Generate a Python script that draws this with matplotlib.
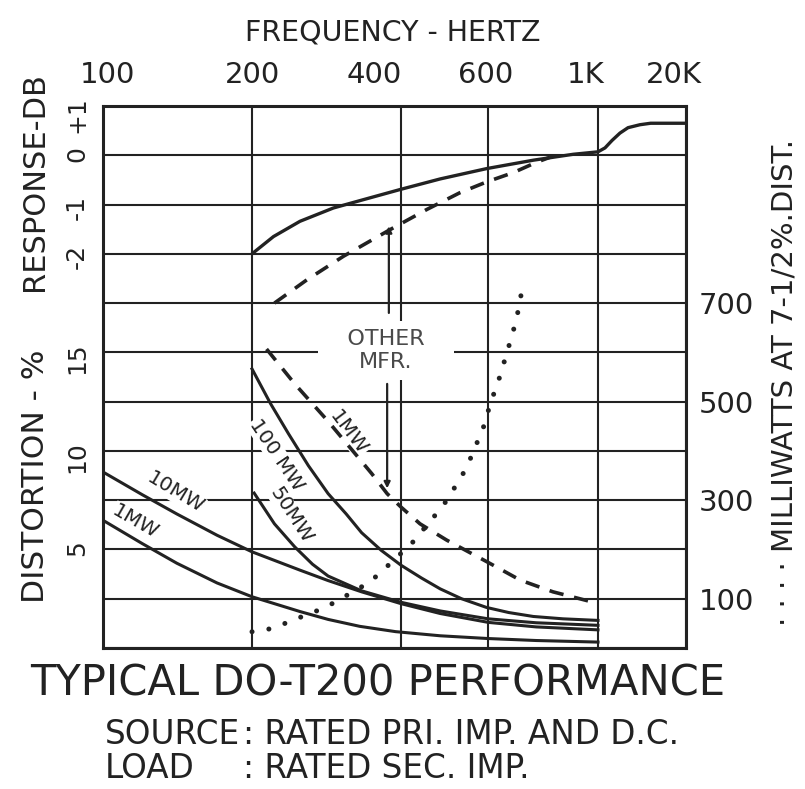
#!/usr/bin/env python3
"""Typical DO-T200 performance: response, distortion and milliwatts vs frequency."""
import numpy as np
import matplotlib
matplotlib.use('Agg')
import matplotlib.pyplot as plt
from matplotlib.ticker import MultipleLocator
from matplotlib.transforms import ScaledTranslation

plt.rcParams.update({
    'font.family': 'DejaVu Sans',
    'text.color': '#222222',
    'axes.edgecolor': '#222222',
    'xtick.color': '#222222',
    'ytick.color': '#222222',
})

INK = '#222222'

# --- axis ticks ---
freq_ticks = [100, 200, 400, 600, 1000, 20000]
freq_labels = ['100', '200', '400', '600', '1K', '20K']
dist_ticks = [5, 10, 15]
db_ticks = [-2, -1, 0, 1]
db_labels = ['-2', '-1', '0', '+1']
mw_ticks = [100, 300, 500, 700]

# --- frequency response (dB) ---
resp_f = [200, 221, 250, 292, 336, 400, 480, 596, 740, 891, 1000,
          1270, 1610, 2110, 2780, 4170, 6000, 20000]
resp_db = [-2.0, -1.65, -1.34, -1.07, -0.9, -0.69, -0.48, -0.27, -0.1, 0.02, 0.07,
           0.15, 0.3, 0.45, 0.56, 0.62, 0.65, 0.65]

other_resp_f = [222, 258, 306, 380, 451, 526, 596, 675, 752, 800]
other_resp_db = [-3.0, -2.53, -2.05, -1.51, -1.1, -0.76, -0.54, -0.35, -0.14, -0.04]

# --- distortion (%) ---
f_100mw = [200, 218, 237, 260, 285, 310, 333, 365, 400, 440, 480, 530, 595,
           660, 740, 850, 1000]
d_100mw = [14.16, 12.4, 10.87, 9.25, 7.83, 6.8, 5.85, 4.95, 4.2, 3.55, 3.0, 2.5, 2.06,
           1.8, 1.6, 1.48, 1.4]

f_50mw = [202, 222, 244, 265, 285, 333, 400, 480, 600, 750, 1000]
d_50mw = [7.86, 6.3, 5.13, 4.25, 3.65, 2.9, 2.32, 1.88, 1.48, 1.28, 1.15]

f_10mw = [100, 120, 141, 170, 200, 250, 285, 333, 400, 480, 600, 750, 1000]
d_10mw = [8.93, 7.78, 6.8, 5.72, 4.88, 3.95, 3.42, 2.85, 2.25, 1.75, 1.3, 1.07, 0.92]

f_1mw = [100, 120, 141, 170, 200, 250, 285, 330, 390, 480, 600, 750, 1000]
d_1mw = [6.48, 5.3, 4.3, 3.3, 2.6, 1.85, 1.45, 1.1, 0.83, 0.62, 0.48, 0.38, 0.3]

other_f_1mw = [214, 244, 285, 349, 375, 400, 437, 495, 597, 697, 811, 1000]
other_d_1mw = [15.17, 13.4, 11.5, 8.85, 7.83, 7.15, 6.3, 5.47, 4.37, 3.44, 2.85, 2.26]

# --- milliwatts at 7-1/2 % distortion ---
mw_f = [200, 221, 237, 281, 320, 346, 368, 421, 472, 498, 521, 544, 559, 578,
        594, 605, 625, 643, 658, 673, 686, 697, 703]
mw = [33, 40, 53, 82, 114, 134, 158, 213, 273, 303, 337, 367, 398, 431,
      462, 496, 532, 573, 607, 640, 674, 704, 744]

# log scale 100..1K, then 1K..20K squeezed into a short end section
K = 88 / 495


def fwd(f):
    lf = np.log10(np.clip(np.asarray(f, float), 1e-9, None))
    return np.where(lf <= 3, lf - 2, 1 + (lf - 3) / np.log10(20) * K)


def inv(u):
    u = np.asarray(u, float)
    return np.where(u <= 1, 10 ** (u + 2), 10 ** (3 + (u - 1) / K * np.log10(20)))


fig = plt.figure(figsize=(8.05, 7.89), dpi=100)
ax = fig.add_axes([103 / 805, 1 - 648 / 789, 583 / 805, 542 / 789])
ax.set_xscale('function', functions=(fwd, inv))
ax.set_xlim(100, 20000)
ax.set_ylim(0, 27.5)

ax.set_xticks(freq_ticks, freq_labels)
ax.xaxis.tick_top()
ax.set_yticks(dist_ticks, [str(t) for t in dist_ticks])
ax.yaxis.set_minor_locator(MultipleLocator(2.5))
ax.set_axisbelow(True)
ax.grid(axis='x', which='major', color=INK, lw=1.5)
ax.grid(axis='y', which='both', color=INK, lw=1.5)
ax.tick_params(axis='x', length=0, pad=12, labelsize=21)
ax.tick_params(axis='y', which='both', length=0, pad=10, labelsize=18,
               labelrotation=90)
for s in ax.spines.values():
    s.set_linewidth(2.2)

# hand-lettered labels sit a little off their grid lines
for lab, dx in zip(ax.get_xticklabels(), [4, 0, -27, -3, -12, -12]):
    lab.set_transform(lab.get_transform() + ScaledTranslation(dx / 100, 0, fig.dpi_scale_trans))

# response axis (left labels, dB)
ax_db = ax.twinx()
ax_db.set_ylim(-10, 1)
ax_db.yaxis.tick_left()
ax_db.set_yticks(db_ticks, db_labels)
ax_db.tick_params(axis='y', length=0, pad=10, labelsize=18, labelrotation=90)
for s in ax_db.spines.values():
    s.set_visible(False)

# milliwatt axis (right)
ax_mw = ax.twinx()
ax_mw.set_ylim(0, 1100)
ax_mw.set_yticks(mw_ticks, [str(t) for t in mw_ticks])
ax_mw.tick_params(axis='y', length=0, pad=9, labelsize=21)
for s in ax_mw.spines.values():
    s.set_visible(False)

# curves
ax_db.plot(resp_f, resp_db, color=INK, lw=2.4, solid_capstyle='round',
           solid_joinstyle='round')
ax_db.plot(other_resp_f, other_resp_db, color=INK, lw=2.6, dashes=(4, 3))

for f, d in [(f_100mw, d_100mw), (f_50mw, d_50mw), (f_10mw, d_10mw), (f_1mw, d_1mw)]:
    ax.plot(f, d, color=INK, lw=2.2, zorder=4, solid_joinstyle='round')
ax.plot(other_f_1mw, other_d_1mw, color=INK, lw=2.6, dashes=(4, 3), zorder=4)

ax_mw.plot(mw_f, mw, color=INK, lw=3.6, dashes=(0.01, 3.4),
           dash_capstyle='round')

# curve labels
lab_box = dict(facecolor='white', edgecolor='none', pad=0.5)
for txt, f, d, rot in [('10MW', 140, 7.9, -31), ('1MW', 116, 6.4, -30),
                       ('100 MW', 224, 9.8, -56), ('50MW', 240, 6.75, -57),
                       ('1MW', 313, 10.9, -53)]:
    ax.text(f, d, txt, rotation=rot, ha='center', va='center', fontsize=14.5,
            color=INK, bbox=lab_box, zorder=3)

ax.text(373, 15.1, '   OTHER   \nMFR.', ha='center', va='center', fontsize=16,
        color='#4a4a4a', linespacing=1.15, zorder=3,
        bbox=dict(facecolor='white', edgecolor='none', pad=6))
arrow = dict(arrowstyle='-|>', color=INK, lw=1.6, mutation_scale=9,
             shrinkA=0, shrinkB=0)
ax.annotate('', xy=(378, 21.4), xytext=(378, 17.0), arrowprops=arrow, zorder=3)
ax.annotate('', xy=(375, 8.1), xytext=(375, 13.4), arrowprops=arrow, zorder=3)

# outer texts
fig.text(393 / 805, 1 - 32 / 789, 'FREQUENCY - HERTZ', ha='center', va='center',
         fontsize=20.5)
fig.text(35 / 805, 1 - 182 / 789, 'RESPONSE-DB', rotation=90, ha='center',
         va='center', fontsize=22)
fig.text(35 / 805, 1 - 476 / 789, 'DISTORTION - %', rotation=90, ha='center',
         va='center', fontsize=22.5)
fig.text(784 / 805, 1 - 382 / 789, '· · · · MILLIWATTS AT 7-1/2%.DIST.',
         rotation=90, ha='center', va='center', fontsize=21)

fig.text(378 / 805, 1 - 684 / 789, 'TYPICAL DO-T200 PERFORMANCE', ha='center',
         va='center', fontsize=30)
fig.text(105 / 805, 1 - 735 / 789, 'SOURCE', ha='left', va='center', fontsize=23.5)
fig.text(243 / 805, 1 - 735 / 789, ': RATED PRI. IMP. AND D.C.', ha='left',
         va='center', fontsize=23.5)
fig.text(105 / 805, 1 - 768 / 789, 'LOAD', ha='left', va='center', fontsize=23.5)
fig.text(243 / 805, 1 - 768 / 789, ': RATED SEC. IMP.', ha='left', va='center',
         fontsize=23.5)

fig.savefig('out.png', dpi=100, facecolor='white')
plt.close(fig)
